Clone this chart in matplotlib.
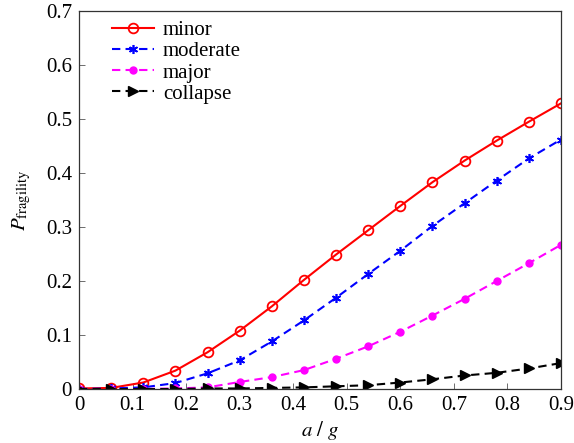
import matplotlib
matplotlib.use('Agg')
import matplotlib.pyplot as plt

plt.rcParams['font.family'] = 'serif'
plt.rcParams['font.serif'] = ['Liberation Serif', 'DejaVu Serif']
plt.rcParams['mathtext.fontset'] = 'stix'
plt.rcParams['font.size'] = 15

# a/g sample points
ag = [0, 0.06, 0.12, 0.18, 0.24, 0.30, 0.36, 0.42, 0.48, 0.54, 0.60, 0.66, 0.72, 0.78, 0.84, 0.90]

minor = [0.001, 0.002, 0.012, 0.034, 0.068, 0.108, 0.153, 0.202, 0.249, 0.294, 0.339, 0.383, 0.423, 0.460, 0.495, 0.529]
moderate = [0.0, 0.001, 0.003, 0.011, 0.029, 0.053, 0.088, 0.127, 0.169, 0.213, 0.256, 0.302, 0.344, 0.386, 0.427, 0.462]
major = [0.0, 0.0, 0.0, 0.001, 0.003, 0.013, 0.022, 0.035, 0.056, 0.079, 0.106, 0.136, 0.167, 0.200, 0.233, 0.267]
collapse = [0.0, 0.0, 0.0, 0.0, 0.001, 0.001, 0.002, 0.003, 0.005, 0.007, 0.012, 0.018, 0.025, 0.030, 0.038, 0.048]

xticks = [0, 0.1, 0.2, 0.3, 0.4, 0.5, 0.6, 0.7, 0.8, 0.9]
xticklabels = ['0', '0.1', '0.2', '0.3', '0.4', '0.5', '0.6', '0.7', '0.8', '0.9']
yticks = [0, 0.1, 0.2, 0.3, 0.4, 0.5, 0.6, 0.7]
yticklabels = ['0', '0.1', '0.2', '0.3', '0.4', '0.5', '0.6', '0.7']

fig = plt.figure(figsize=(5.74, 4.43), dpi=100)
ax = fig.add_axes([0.1376, 0.1219, 0.8398, 0.8533])

dash = (4, 2.5)
ax.plot(ag, minor, '-', color='red', lw=1.5, marker='o', ms=7,
        mfc='none', mew=1.3, label='minor')
ax.plot(ag, moderate, '--', color='blue', lw=1.5, marker=(6, 2, 0), ms=6.5,
        mew=1.2, dashes=dash, label='moderate')
ax.plot(ag, major, '--', color='magenta', lw=1.5, marker='o', ms=5,
        dashes=dash, label='major')
ax.plot(ag, collapse, '--', color='black', lw=1.5, marker='>', ms=7,
        dashes=dash, label='collapse')

ax.set_xlim(0, 0.9)
ax.set_ylim(0, 0.7)
ax.set_xticks(xticks)
ax.set_xticklabels(xticklabels)
ax.set_yticks(yticks)
ax.set_yticklabels(yticklabels)
ax.tick_params(direction='in', length=4, width=0.6, labelsize=15, pad=5,
               color='#555555')
for s in ax.spines.values():
    s.set_linewidth(0.9)
    s.set_color('#333333')

ax.set_xlabel(r'$a\ /\ g$', fontsize=15, labelpad=3)
ax.set_ylabel(r'$P_{\rm fragility}$', fontsize=15, labelpad=9)

ax.legend(loc='upper left', bbox_to_anchor=(0.068, 0.975), frameon=False,
          fontsize=15, handlelength=2.05, handletextpad=0.4, labelspacing=0.08,
          borderpad=0, borderaxespad=0)

fig.savefig('out.png', dpi=100)
